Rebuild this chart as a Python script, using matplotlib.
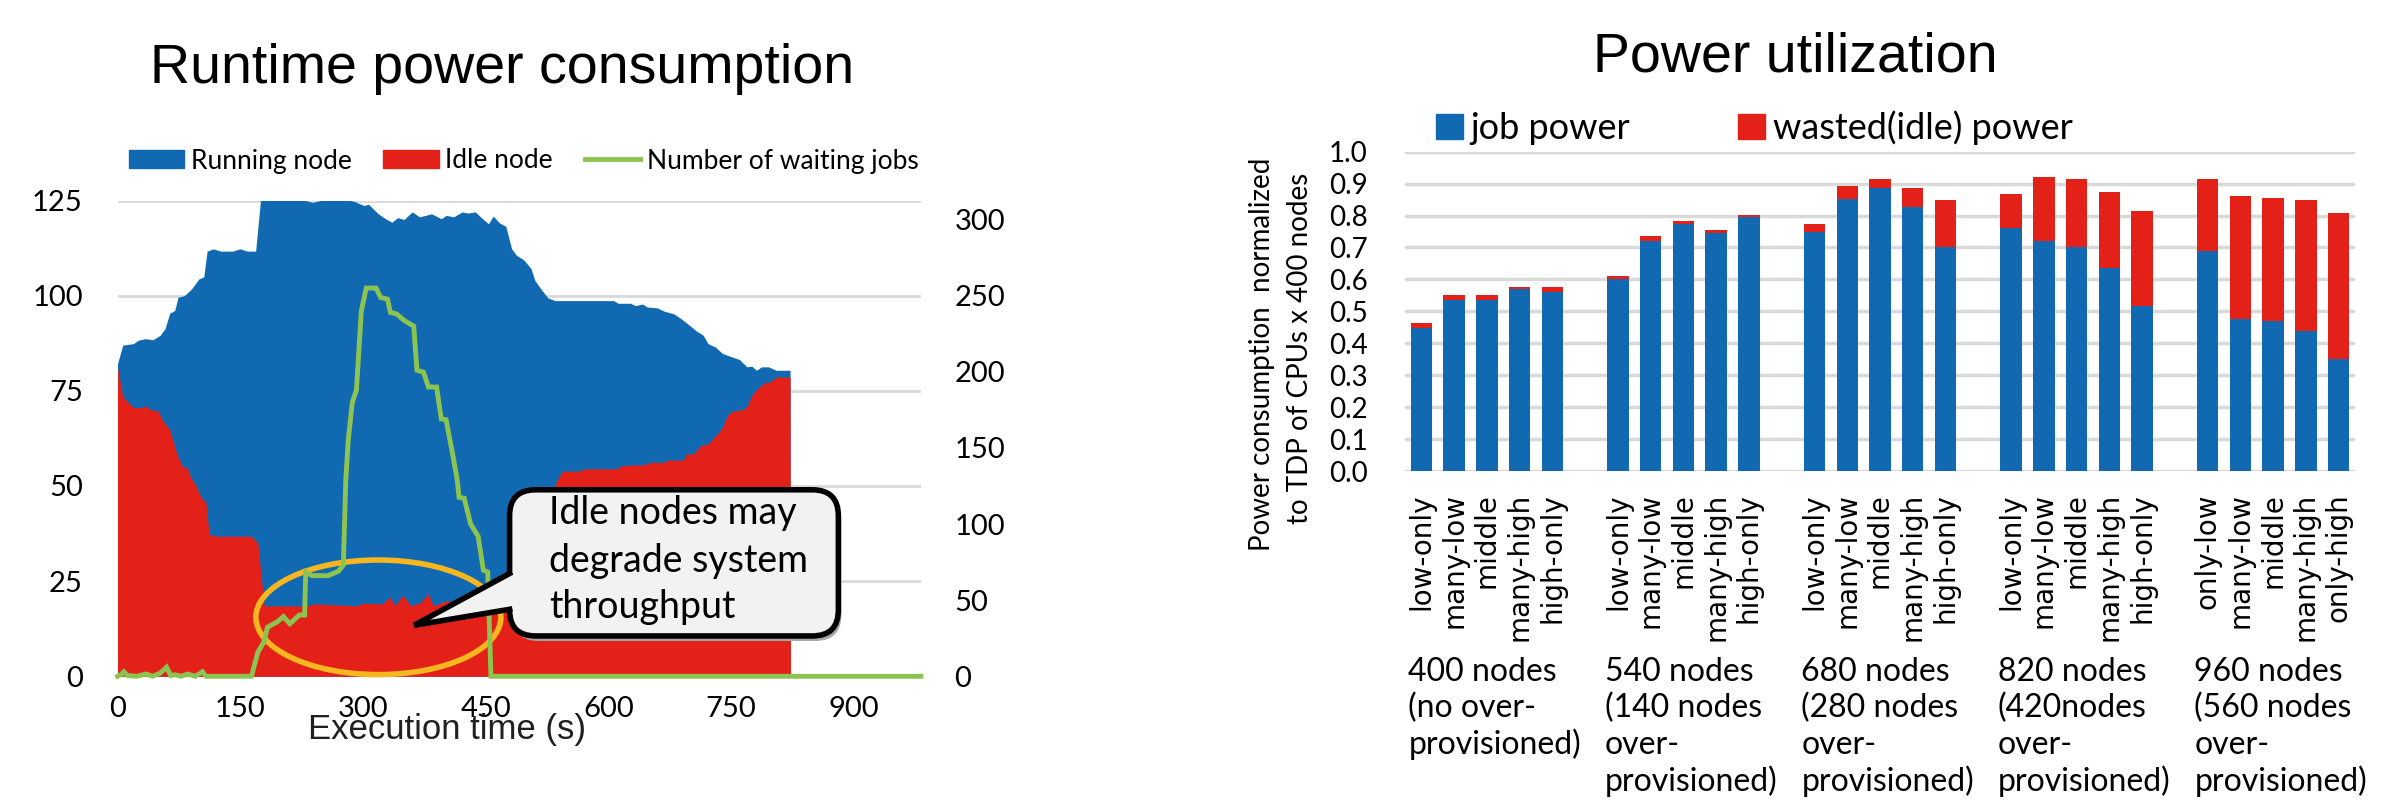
import matplotlib
matplotlib.use("Agg")
import matplotlib.pyplot as plt
import matplotlib.transforms as mtransforms
from matplotlib.patches import Patch, Ellipse, FancyBboxPatch, Polygon
from matplotlib.lines import Line2D
from matplotlib.ticker import FormatStrFormatter

W, H = 2396, 801
BLUE = "#116AB1"
RED = "#E42119"
GREEN = "#8DC451"
GRID = "#D9D9D9"
GOLD = "#F5B620"
CAL = ["Lato", "DejaVu Sans"]
ARIAL = ["Liberation Sans", "DejaVu Sans"]
WIDE = ["DejaVu Sans"]

plt.rcParams["font.family"] = CAL

# ---- runtime power consumption (nodes vs execution time)
total_t = [0, 6.4, 19.5, 25.4, 34.3, 43.2, 52.1, 58, 63.9, 69.9, 74, 81.7, 90.6, 99.5, 105.4,
           109.5, 117.2, 126.1, 140.9, 149.8, 158.7, 168.8, 174.7, 182.4, 188.4, 206.1, 229.8,
           238.7, 247.6, 271.3, 274.3, 289, 300.9, 306.8, 318.7, 327.6, 335.3, 342.4, 350.1,
           360.2, 369.1, 383.9, 395.7, 401.7, 410.6, 421.3, 428.4, 437.3, 446.2, 453.3, 459.2,
           466.9, 474.6, 481.7, 487.6, 496.5, 505.4, 510.1, 517.3, 526.1, 535, 606.1, 612,
           626.8, 632.8, 641.7, 647.6, 659.5, 668.4, 680.2, 689.1, 698, 706.9, 715.8, 721.7,
           730.6, 739.5, 748.4, 760.3, 769.2, 775.1, 781, 787, 795.9, 804.8, 822, 822.5]
total_nodes = [82.1, 87.0, 87.4, 88.3, 88.7, 88.4, 89.6, 91.3, 95.4, 96.1, 99.6, 100, 101.8, 104.4,
               104.9, 111.7, 112.3, 111.7, 111.7, 112.3, 111.7, 111.7, 125, 125.2, 125.7, 125, 125,
               124.5, 125, 125, 125.4, 124.8, 123.7, 124, 121.5, 120.2, 119.3, 120.5, 120, 122,
               120.7, 121.5, 120.2, 121.1, 120.7, 122, 121.7, 122, 120.2, 118.9, 120.9, 119.1,
               118.2, 112.3, 110.6, 109.4, 107.1, 104, 101.8, 99.4, 98.7, 98.7, 98, 98, 97.4,
               97.8, 97, 96.8, 95.9, 95.2, 93.9, 92.4, 90.8, 89.6, 87.4, 86.5, 84.8, 84.1, 83.2,
               81.3, 81.5, 80.4, 81.3, 81.3, 80.4, 80.4, 0]

idle_t = [0, 6.4, 19.5, 31.3, 34.3, 40.2, 49.1, 55, 63.9, 69.9, 74, 79.9, 84.7, 90, 95, 100, 104,
          108, 112, 120.8, 163.7, 167.6, 171.5, 179.3, 230, 241.7, 292.4, 300.2, 323.6, 332.9,
          339.2, 348.5, 358.7, 370.4, 379.8, 386, 401.6, 420, 440, 465, 480, 500, 520, 533,
          537.9, 543.8, 564.5, 570.4, 608.9, 617.8, 644.5, 650.4, 668.2, 671.2, 691.9, 694.9,
          703.8, 712.7, 721.5, 733.4, 739.3, 745.3, 751.2, 763, 769, 774.9, 783.8, 789.7,
          798.6, 804.5, 822, 822.5]
idle_nodes = [81.3, 73.4, 70.6, 70.6, 71.1, 70, 69.8, 67.3, 64.8, 60.3, 57.6, 54.9, 55, 52, 50.5,
              48, 46.5, 45.8, 37.3, 36.8, 36.8, 35.9, 35, 18.5, 18.5, 19, 18.5, 19.2, 19, 20.8,
              18.5, 21.3, 18.5, 19.4, 21.7, 18.5, 19.8, 19.5, 20.5, 20, 28, 38, 45, 49.5, 51.7,
              53.9, 53.9, 54.5, 54.5, 55.4, 55.6, 56.2, 56.2, 56.8, 56.8, 58.4, 58.4, 60.6, 61,
              63.7, 65.4, 68.5, 69.6, 70, 70.7, 73.7, 75.9, 77, 77.4, 78.6, 78.6, 0]

wait_t = [0, 4, 7.7, 12, 23.4, 35, 43, 52, 60, 65, 70.2, 78, 85.8, 95, 103.8, 108, 163.7, 171.5,
          179.3, 183.2, 195, 202.8, 210.6, 222.3, 228.6, 230.1, 238, 257.5, 270, 276, 279, 282,
          287, 292, 298, 304, 316, 321.6, 330, 333.5, 341, 351, 362, 366, 374, 380, 390, 395.7,
          401.6, 409.3, 415.2, 417.4, 423.7, 431.5, 440.8, 447.1, 452.5, 456.4, 982]
wait_jobs = [0, 1, 3, 0.5, 0, 1.5, 0, 2, 6, 0.5, 1, 0, 1.5, 0, 3, 0, 0, 15.8, 22.9, 32.2, 35.7,
             39.2, 34.5, 40.3, 40.3, 68.5, 66.1, 66.1, 69, 73, 129, 155, 180, 188, 240, 255, 255,
             248.8, 247.7, 239, 238, 233.5, 230, 201, 199.7, 190, 190, 169, 168.5, 146.7, 129,
             117.6, 117, 100.1, 91.9, 69.7, 68.5, 0, 0]

callout_lines = ["Idle nodes may", "degrade system", "throughput"]

# ---- power utilization (normalized to TDP of CPUs x 400 nodes)
group_labels = ["400 nodes\n(no over-\nprovisioned)",
                "540 nodes\n(140 nodes\nover-\nprovisioned)",
                "680 nodes\n(280 nodes\nover-\nprovisioned)",
                "820 nodes\n(420nodes\nover-\nprovisioned)",
                "960 nodes\n(560 nodes\nover-\nprovisioned)"]
mix_labels = ["low-only", "many-low", "middle", "many-high", "high-only"] * 4 + \
             ["only-low", "many-low", "middle", "many-high", "only-high"]
job_power = [0.449, 0.537, 0.537, 0.569, 0.562,
             0.602, 0.721, 0.774, 0.746, 0.794,
             0.747, 0.853, 0.886, 0.827, 0.701,
             0.761, 0.721, 0.701, 0.636, 0.517,
             0.688, 0.477, 0.471, 0.438, 0.352]
wasted_power = [0.015, 0.014, 0.014, 0.008, 0.015,
                0.008, 0.015, 0.008, 0.009, 0.007,
                0.027, 0.040, 0.027, 0.060, 0.147,
                0.105, 0.199, 0.212, 0.238, 0.297,
                0.225, 0.383, 0.383, 0.410, 0.455]


def fx(px):
    return px / W


def fy(px):
    return 1 - px / H


fig = plt.figure(figsize=(W / 100, H / 100), dpi=100)

# ================= left chart
ax = fig.add_axes([fx(117.5), fy(676.3), fx(921 - 117.5), (676.3 - 200.5) / H])
ax.fill_between(total_t, total_nodes, color=BLUE, lw=0, zorder=2)
ax.fill_between(idle_t, idle_nodes, color=RED, lw=0, zorder=3)
ax.set_xlim(0, 982)
ax.set_ylim(0, 125)
ax.set_xticks(range(0, 901, 150))
ax.set_yticks(range(0, 126, 25))
ax.grid(axis="y", color=GRID, lw=2)
ax.set_axisbelow(True)
for s in ax.spines.values():
    s.set_visible(False)
ax.tick_params(axis="x", length=0, labelsize=21, pad=14)
ax.tick_params(axis="y", length=0, labelsize=21, pad=25)

ax.add_patch(Ellipse((318.8, 15.5), 299.5, 30.1, fill=False, ec=GOLD, lw=4,
                     zorder=4, clip_on=False))

axr = ax.twinx()
axr.plot(wait_t, wait_jobs, color=GREEN, lw=3.5, solid_joinstyle="miter", clip_on=False)
axr.set_ylim(0, 312.5)
axr.set_yticks(range(0, 301, 50))
for s in axr.spines.values():
    s.set_visible(False)
axr.tick_params(axis="y", length=0, labelsize=21, pad=24)

# callout box (pixel space)
fig.canvas.draw()
x0, y0 = ax.transData.transform((479.2, 10.6))
x1, y1 = ax.transData.transform((881, 49.0))
ident = mtransforms.IdentityTransform()
shadow = FancyBboxPatch((x0 + 3, y0 - 5), x1 - x0, y1 - y0, boxstyle="round,pad=0,rounding_size=26",
                        fc="#A6A6A6", ec="none", transform=ident, zorder=5)
box = FancyBboxPatch((x0, y0), x1 - x0, y1 - y0, boxstyle="round,pad=0,rounding_size=26",
                     fc="#F2F2F2", ec="black", lw=4, transform=ident, zorder=6)
axr.add_patch(shadow)
axr.add_patch(box)
tip = (362.5, 13.4)
b_top = (479.2, 27.0)
b_bot = (479.2, 17.6)
axr.add_patch(Polygon([(492, 27.0), b_top, tip, b_bot, (492, 17.6)], closed=True,
                      fc="#F2F2F2", ec="none", transform=ax.transData, zorder=7, clip_on=False))
axr.add_line(Line2D([b_top[0], tip[0], b_bot[0]], [b_top[1], tip[1], b_bot[1]], color="black",
                    lw=4, solid_joinstyle="miter", transform=ax.transData, zorder=8, clip_on=False))
for line, v in zip(callout_lines, [40.1, 27.4, 15.2]):
    axr.text(527.8, v, line, transform=ax.transData, ha="left", va="baseline", fontsize=27,
             zorder=9)

fig.legend([Patch(color=BLUE), Patch(color=RED), Line2D([], [], color=GREEN, lw=3.5)],
           ["Running node", "Idle node", "Number of waiting jobs"],
           loc="center left", bbox_to_anchor=(fx(128.8), fy(161)), ncol=3, frameon=False,
           fontsize=19, handlelength=2.1, handleheight=0.68, handletextpad=0.25,
           columnspacing=1.2, borderpad=0, borderaxespad=0)

fig.text(fx(502), fy(83.3), "Runtime power consumption", ha="center", va="baseline",
         fontsize=40, family=ARIAL)
fig.text(fx(446.5), fy(729), "Execution time (s)", ha="center", va="center", fontsize=25,
         family=ARIAL, color="#231F20")

# ================= right chart
ax3 = fig.add_axes([fx(1405), fy(471), fx(950), 319.3 / H])
xpos = [g * 6 + i for g in range(5) for i in range(5)]
ax3.bar(xpos, job_power, width=0.655, color=BLUE, zorder=2)
ax3.bar(xpos, wasted_power, bottom=job_power, width=0.655, color=RED, zorder=2)
ax3.set_xlim(-0.5, 28.5)
ax3.set_ylim(0, 1.0)
ax3.set_yticks([i / 10 for i in range(11)])
ax3.yaxis.set_major_formatter(FormatStrFormatter("%.1f"))
ax3.grid(axis="y", color=GRID, lw=2.5)
ax3.set_axisbelow(True)
for s in ax3.spines.values():
    s.set_visible(False)
ax3.set_xticks(xpos)
ax3.set_xticklabels(mix_labels, rotation=90, va="top", ha="center", fontsize=20, family=WIDE)
ax3.tick_params(axis="x", length=0, pad=16)
ax3.tick_params(axis="y", length=0, labelsize=20, pad=27)

fig.text(fx(1262), fy(354.5), "Power consumption  normalized", rotation=90, ha="center",
         va="center", fontsize=20)
fig.text(fx(1300), fy(348), "to TDP of CPUs x 400 nodes", rotation=90, ha="center",
         va="center", fontsize=20)

blend = mtransforms.blended_transform_factory(ax3.transData, fig.transFigure)
for g, lbl in enumerate(group_labels):
    for j, line in enumerate(lbl.split("\n")):
        fig.text(g * 6 - 0.4, fy(680.7 + j * 36.7), line, transform=blend, ha="left",
                 va="baseline", fontsize=23)

fig.legend([Patch(color=BLUE), Patch(color=RED)], ["job power", "wasted(idle) power"],
           loc="center left", bbox_to_anchor=(fx(1436), fy(128)), ncol=2, frameon=False,
           fontsize=26, handlelength=0.75, handleheight=0.7, handletextpad=0.2,
           columnspacing=3.0, borderpad=0, borderaxespad=0)

fig.text(fx(1795.6), fy(71.7), "Power utilization", ha="center", va="baseline",
         fontsize=40, family=ARIAL)

fig.savefig("out.png")
